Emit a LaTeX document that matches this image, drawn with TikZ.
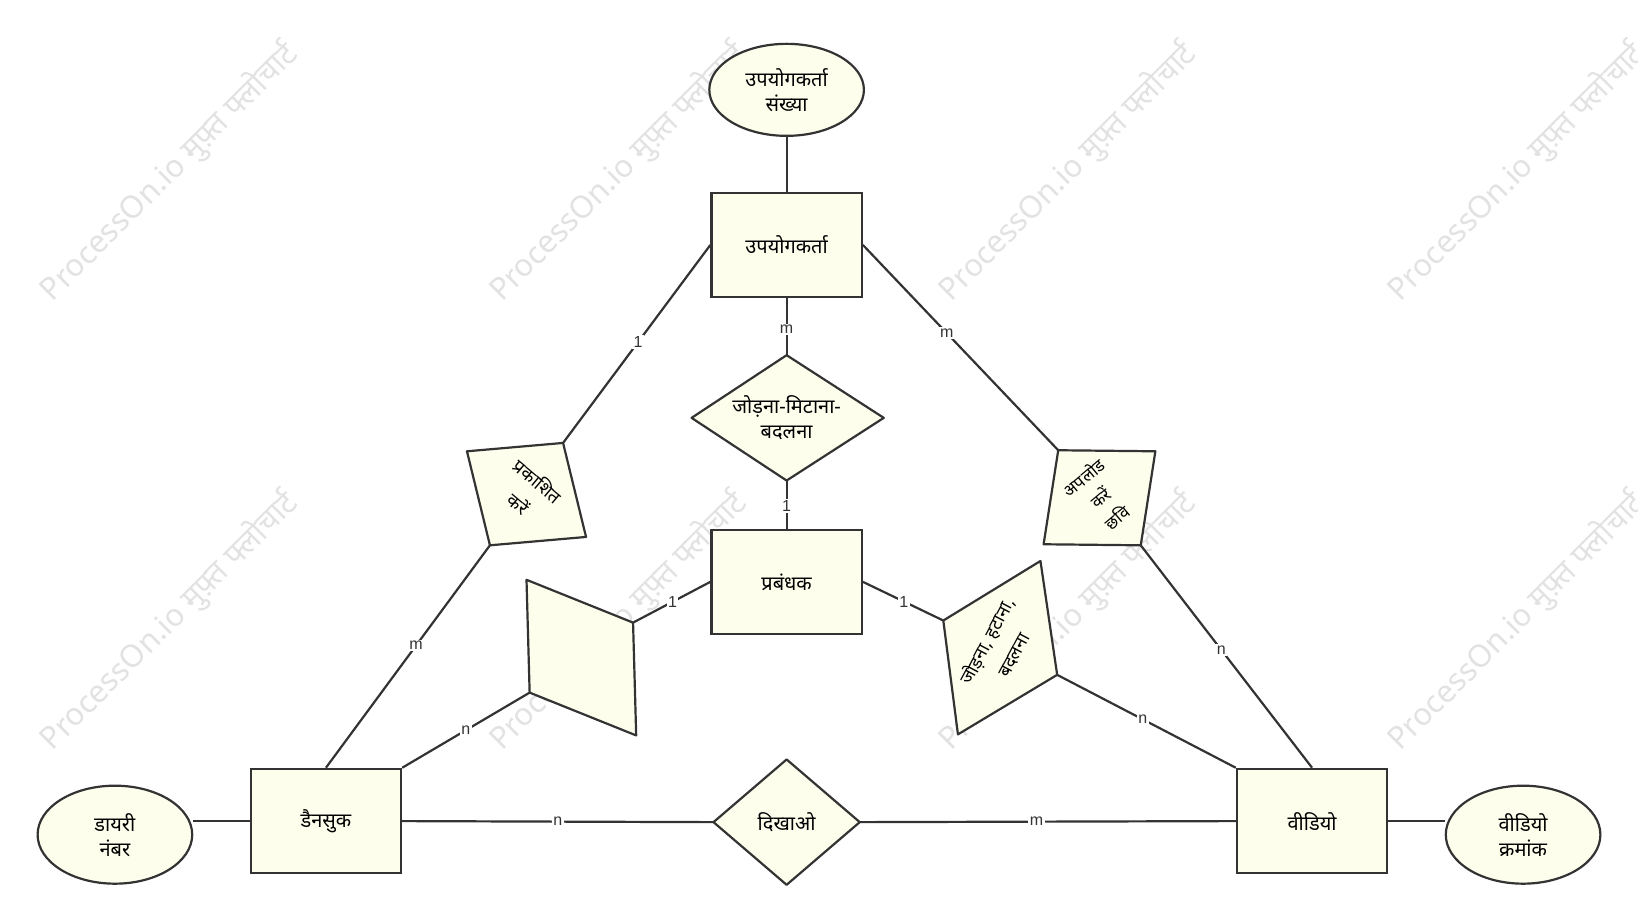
\documentclass[tikz,border=0pt]{standalone}
\usepackage{fontspec}
\setmainfont{Noto Sans}[Script=Devanagari]
\newfontfamily\labfont{Liberation Sans}
\usetikzlibrary{shapes.geometric}
\definecolor{fillc}{HTML}{FDFEEC}
\definecolor{linec}{HTML}{333333}
\definecolor{wm}{HTML}{E2E2E2}
\begin{document}
\begin{tikzpicture}[x=1.0446pt,y=-1.0446pt,
  ent/.style={draw=linec, line width=2.2pt, fill=fillc, minimum width=150.4pt, minimum height=104.5pt, inner sep=2pt, align=center, font=\fontsize{20}{25}\selectfont},
  attr/.style={ellipse, draw=linec, line width=2.2pt, fill=fillc, minimum width=154.6pt, inner sep=0pt, align=center, font=\fontsize{20}{25}\selectfont},
  rel/.style={draw=linec, line width=2.2pt, fill=fillc, line join=round},
  conn/.style={draw=linec, line width=2.2pt},
  card/.style={fill=white, inner sep=1.5pt, font=\labfont\fontsize{16}{18}\selectfont, text=linec},
  wmark/.style={text=wm, rotate=45, font=\fontsize{31}{33}\selectfont, inner sep=0pt},
  rtext/.style={align=center, font=\fontsize{18}{30}\selectfont, inner sep=0pt, text=black}
]
\useasboundingbox (0,0) rectangle (1568,882);
% watermarks
\foreach \wx/\wy [count=\i] in {162/165,592/165,1022/165,1452/165,162/595,592/595,1022/595,1452/595}
  \node[wmark] (wm\i) at (\wx,\wy) {ProcessOn.io मुफ़्त फ्लोचार्ट};

% relationship polygon vertices
\coordinate (r1t) at (753,340); \coordinate (r1r) at (846,400);
\coordinate (r1b) at (753,460); \coordinate (r1l) at (662,400);
\coordinate (r2t) at (753,727); \coordinate (r2r) at (823,787);
\coordinate (r2b) at (753,847); \coordinate (r2l) at (683,787);
\coordinate (p1t) at (539,424); \coordinate (p1r) at (561,514);
\coordinate (p1b) at (469,522); \coordinate (p1l) at (447,432);
\coordinate (p2t) at (1013,431); \coordinate (p2r) at (1106,432);
\coordinate (p2b) at (1092,522); \coordinate (p2l) at (999,521);
\coordinate (p3t) at (504,555); \coordinate (p3r) at (606,596);
\coordinate (p3b) at (609,704); \coordinate (p3l) at (507,663);
\coordinate (p4l) at (903,594); \coordinate (p4t) at (996,537);
\coordinate (p4r) at (1012,646); \coordinate (p4b) at (917,703);

% entities and attributes
\node[attr, minimum height=92pt] (et) at (753,86) {उपयोगकर्ता\\संख्या};
\node[ent] (u) at (753,234.5) {उपयोगकर्ता};
\node[ent] (m) at (753,557) {प्रबंधक};
\node[ent] (d) at (312,786) {डैनसुक};
\node[ent] (v) at (1256,786) {वीडियो};
\node[attr, minimum height=98pt] (el) at (110,799) {डायरी\\नंबर};
\node[attr, minimum height=98pt] (er) at (1458,799) {वीडियो\\क्रमांक};

% relationship shapes
\draw[rel] (r1t) -- (r1r) -- (r1b) -- (r1l) -- cycle;
\node[rtext, font=\fontsize{20}{25}\selectfont] (r1) at (753,400) {जोड़ना-मिटाना-\\बदलना};
\draw[rel] (r2t) -- (r2r) -- (r2b) -- (r2l) -- cycle;
\node[rtext, font=\fontsize{20}{25}\selectfont] (r2) at (753,787) {दिखाओ};
\draw[rel] (p1t) -- (p1r) -- (p1b) -- (p1l) -- cycle;
\node[rtext, rotate=-40] (p1) at (506,471) {प्रकाशित\\करें};
\draw[rel] (p2t) -- (p2r) -- (p2b) -- (p2l) -- cycle;
\node[rtext, rotate=40, font=\fontsize{17}{26}\selectfont] (p2) at (1053,476) {अपलोड\\करें\\छवि};
\draw[rel] (p3t) -- (p3r) -- (p3b) -- (p3l) -- cycle;
\draw[rel] (p4t) -- (p4r) -- (p4b) -- (p4l) -- cycle;
\node[rtext, rotate=62] (p4) at (957,620) {जोड़ना, हटाना,\\बदलना};

% connectors
\draw[conn] (et) -- (u);
\draw[conn] (u.south) -- node[card, pos=0.55] (c1) {m} (r1t);
\draw[conn] (r1b) -- node[card, pos=0.53] (c2) {1} (m.north);
\draw[conn] (u.west) -- node[card, pos=0.49] (c3) {1} (p1t);
\draw[conn] (p1b) -- node[card, pos=0.45] (c4) {m} (d.north);
\draw[conn] (u.east) -- node[card, pos=0.43] (c5) {m} (p2t);
\draw[conn] (p2b) -- node[card, pos=0.47] (c6) {n} (v.north);
\draw[conn] (m.west) -- node[card, pos=0.49] (c7) {1} (p3r);
\draw[conn] (p3l) -- node[card, pos=0.5] (c8) {n} (d.north east);
\draw[conn] (m.east) -- node[card, pos=0.51] (c9) {1} (p4l);
\draw[conn] (p4r) -- node[card, pos=0.48] (c10) {n} (v.north west);
\draw[conn] (d.east) -- node[card, pos=0.5] (c11) {n} (r2l);
\draw[conn] (r2r) -- node[card, pos=0.47] (c12) {m} (v.west);
\draw[conn] (el.east |- d.west) -- (d.west);
\draw[conn] (v.east) -- (er.west |- v.east);
\end{tikzpicture}
\end{document}
